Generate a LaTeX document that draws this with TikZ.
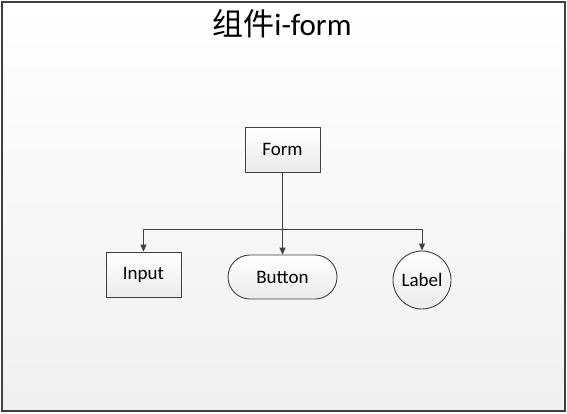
\documentclass[tikz,border=0pt]{standalone}
\usepackage{fontspec}
\setmainfont{Carlito}
\newfontfamily\cjk{Noto Sans CJK SC}
\usetikzlibrary{arrows.meta,shapes.misc,shapes.geometric}
\definecolor{ln}{HTML}{404040}
\tikzset{
  box/.style={draw=ln, line width=0.9pt, top color=white, bottom color=black!8, font=\fontsize{19}{21}\selectfont, inner sep=0pt},
  arr/.style={draw=ln, line width=0.9pt, -{Triangle[length=7pt,width=6pt]}},
}
\begin{document}
\begin{tikzpicture}[x=1pt,y=-1pt]
\useasboundingbox (0,0) rectangle (567,413);
\fill[white] (0,0) rectangle (567,413);
\path[top color=white, bottom color=black!6, draw=ln, line width=1.5pt] (2,2) rectangle (565,411);
\node[font=\fontsize{31}{34}\selectfont] (title) at (282,24) {{\cjk 组件}i-form};
\node[box, rectangle, minimum width=75pt, minimum height=45pt] (form) at (282.5,149.5) {Form};
\node[box, rectangle, minimum width=75pt, minimum height=45pt] (input) at (143.5,274.5) {Input};
\node[box, rounded rectangle, minimum width=109pt, minimum height=44pt] (button) at (282.5,277) {Button};
\node[box, circle, minimum size=58pt] (label) at (422,280) {Label};
\coordinate (jn) at (282.5,229);
\draw[arr] (form) -- (button);
\draw[arr] (jn) -| (input);
\draw[arr] (jn) -| (label);
\end{tikzpicture}
\end{document}
